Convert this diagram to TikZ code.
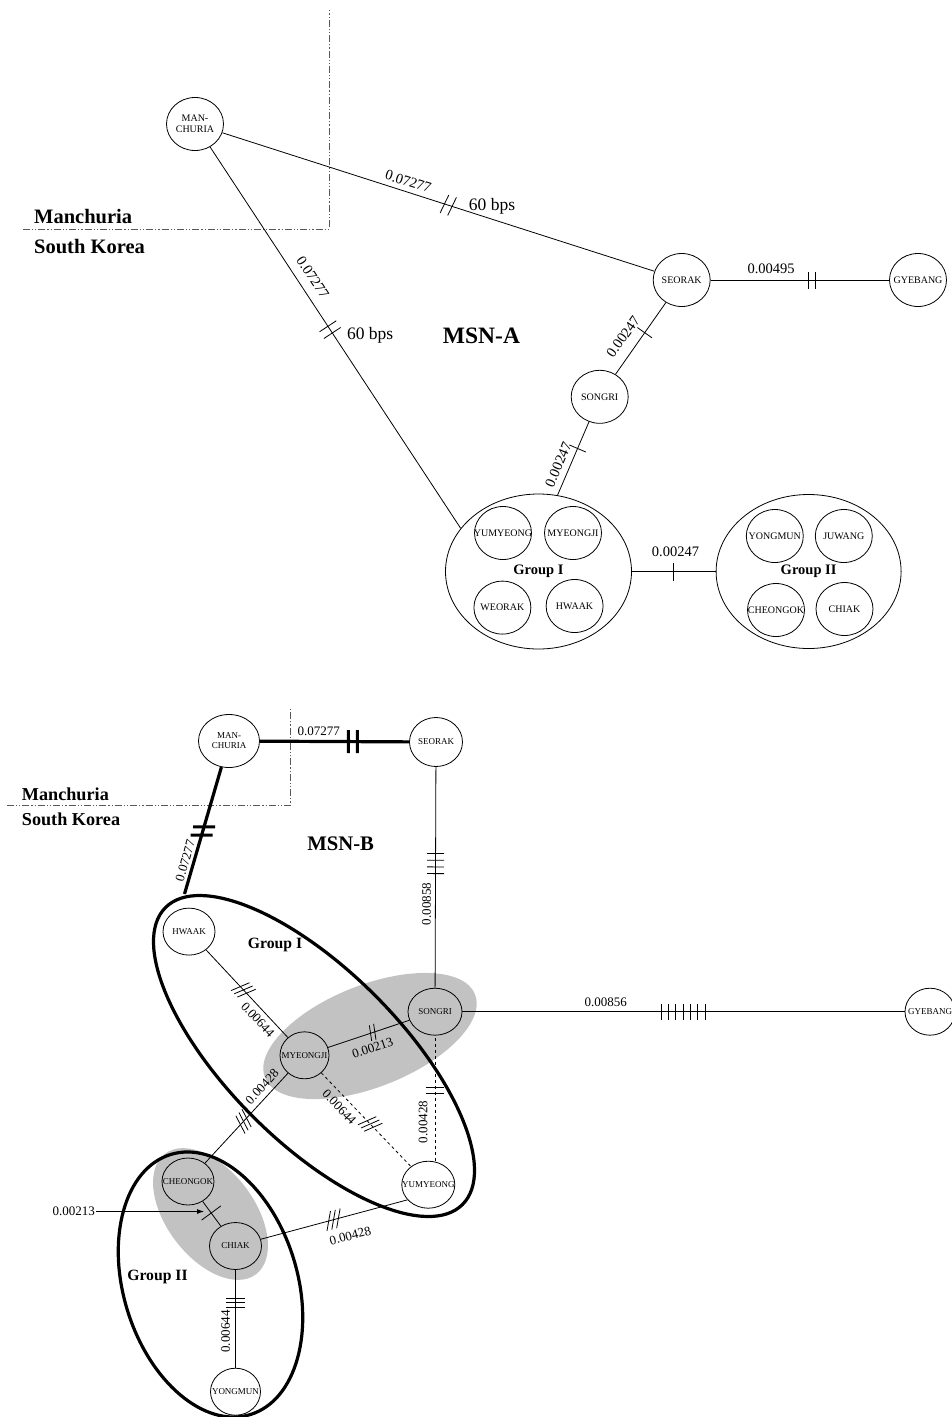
\documentclass[tikz,border=0pt]{standalone}
\usepackage{fontspec}
\setmainfont{Liberation Serif}
\usetikzlibrary{decorations.markings,arrows.meta,shapes.geometric}
\newcommand{\nm}[1]{\makebox[0pt]{#1}}
\tikzset{
  nA/.style={draw, ellipse, line width=0.8pt, inner sep=0pt, minimum width=57pt, minimum height=53pt, align=center, font=\fontsize{10}{11.3}\selectfont},
  nB/.style={nA, minimum width=52pt, minimum height=47pt, font=\fontsize{9}{10}\selectfont},
  grpA/.style={draw, ellipse, line width=0.8pt, inner sep=0pt, font=\bfseries\fontsize{14.5}{15}\selectfont},
  grpB/.style={inner sep=0pt, font=\bfseries\fontsize{15.7}{16}\selectfont},
  lbA/.style={sloped, inner sep=1pt, font=\fontsize{14.5}{15}\selectfont},
  lbB/.style={sloped, inner sep=1pt, font=\fontsize{13}{14}\selectfont},
  bps/.style={inner sep=0pt, font=\fontsize{17.5}{18}\selectfont},
  regA/.style={inner sep=0pt, font=\bfseries\fontsize{20.5}{22}\selectfont},
  regB/.style={inner sep=0pt, font=\bfseries\fontsize{18.2}{20}\selectfont},
  ttlA/.style={inner sep=0pt, font=\bfseries\fontsize{23.5}{25}\selectfont},
  ttlB/.style={inner sep=0pt, font=\bfseries\fontsize{20.7}{22}\selectfont},
  ed/.style={line width=0.8pt},
  thk/.style={line width=3.2pt},
  bd/.style={line width=0.9pt, black!65, dash pattern=on 7pt off 2pt on 1.2pt off 2pt on 1.2pt off 2pt},
  gr/.style={fill=black!24},
  tk/.style args={#1:#2:#3:#4:#5}{postaction={decorate,decoration={markings,
     mark=at position #1 with {\foreach \k in {1,...,#2}{\draw[solid,line width=0.8pt] ({(\k-(#2+1)/2)*#3},0) ++({270+(#4)}:#5) -- ++({90+(#4)}:{2*#5});}}}}},
  tkb/.style args={#1:#2:#3:#4:#5}{postaction={decorate,decoration={markings,
     mark=at position #1 with {\foreach \k in {1,...,#2}{\draw[solid,line width=3pt] ({(\k-(#2+1)/2)*#3},0) ++({270+(#4)}:#5) -- ++({90+(#4)}:{2*#5});}}}}},
}
\begin{document}
\begin{tikzpicture}[x=1pt,y=1pt]
\useasboundingbox (0,0) rectangle (951,-1417);

% ================= MSN-A =================
\draw[bd] (23,-229) -- (329,-229) -- (329,-10);
\node[regA, anchor=base west] (mancA) at (34,-223) {Manchuria};
\node[regA, anchor=base west] (skA) at (34,-253) {South Korea};
\node[ttlA, anchor=base] (msnA) at (481.5,-343.7) {MSN-A};

\node[nA] (manA) at (195,-124) {\nm{MAN-}\\\nm{CHURIA}};
\node[nA] (seoA) at (681.7,-280) {\nm{SEORAK}};
\node[nA] (gyeA) at (918,-280) {\nm{GYEBANG}};
\node[nA] (sonA) at (599.7,-396.8) {\nm{SONGRI}};
\node[grpA, minimum width=186pt, minimum height=155pt] (g1A) at (538.5,-571.5) {Group I};
\node[grpA, minimum width=185pt, minimum height=154pt] (g2A) at (808.6,-571.5) {Group II};
\node[nA] (yumA) at (503,-533) {\nm{YUMYEONG}};
\node[nA] (myeA) at (573,-533) {\nm{MYEONGJI}};
\node[nA] (weoA) at (502.4,-607.6) {\nm{WEORAK}};
\node[nA] (hwaA) at (574.6,-606) {\nm{HWAAK}};
\node[nA] (yonA) at (774.8,-536) {\nm{YONGMUN}};
\node[nA] (juwA) at (843.8,-536) {\nm{JUWANG}};
\node[nA] (cheA) at (776,-610) {\nm{CHEONGOK}};
\node[nA] (chiA) at (844.5,-609) {\nm{CHIAK}};

\draw[ed, tk={.523:2:8:-8:10}] (manA) -- (seoA)
  node[lbA, pos=.423, above=4pt] {0.07277}
  node[bps, pos=.615, xshift=4pt, yshift=12pt] {60 bps};
\draw[ed, tk={.479:2:8:0:10}] (manA) -- (g1A.151)
  node[lbA, pos=.362, above=8pt] {0.07277}
  node[bps, pos=.539, xshift=25pt, yshift=17pt] {60 bps};
\draw[ed, tk={.568:2:6.8:0:8.5}] (seoA) -- (gyeA)
  node[lbA, pos=.339, above=5pt] {0.00495};
\draw[ed, tk={.58:1:0:0:9}] (sonA) -- (seoA)
  node[lbA, pos=.40, above=9pt] {0.00247};
\draw[ed, tk={.637:1:0:0:9}] (g1A.76) -- (sonA)
  node[lbA, pos=.355, above=5pt] {0.00247};
\draw[ed, tk={.49:1:0:0:9}] (g1A) -- (g2A)
  node[lbA, pos=.52, above=13pt] {0.00247};

% ================= MSN-B =================
\fill[gr, rotate around={21.6:(370,-1036)}] (370,-1036) ellipse [x radius=113, y radius=51];
\fill[gr, rotate around={37:(210.5,-1214)}] (210.5,-1214) ellipse [x radius=44, y radius=75.5];
\draw[thk, rotate around={-45:(314,-1056)}] (314,-1056) ellipse [x radius=210, y radius=86];
\draw[thk, rotate around={17:(210.5,-1284.5)}] (210.5,-1284.5) ellipse [x radius=87, y radius=136];

\draw[bd] (7,-805.7) -- (290,-805.7) -- (290,-707);
\node[regB, anchor=base west] (mancB) at (21.7,-800) {Manchuria};
\node[regB, anchor=base west] (skB) at (21.7,-825.7) {South Korea};
\node[ttlB, anchor=base] (msnB) at (340.7,-850) {MSN-B};
\node[grpB, anchor=base] (g1lab) at (275,-948.5) {Group I};
\node[grpB, anchor=base] (g2lab) at (157.5,-1280) {Group II};

\node[nB, minimum width=61pt, minimum height=53pt] (manB) at (229,-741) {\nm{MAN-}\\\nm{CHURIA}};
\node[nB, minimum width=53pt, minimum height=49pt] (seoB) at (436,-742) {\nm{SEORAK}};
\node[nB] (hwaB) at (189,-931.6) {\nm{HWAAK}};
\node[nB, minimum width=49pt] (myeB) at (304.5,-1055.3) {\nm{MYEONGJI}};
\node[nB, minimum width=54pt] (sonB) at (435,-1011.7) {\nm{SONGRI}};
\node[nB, minimum width=53pt] (yumB) at (428.3,-1184.7) {\nm{YUMYEONG}};
\node[nB] (cheB) at (188,-1181.5) {\nm{CHEONGOK}};
\node[nB] (chiB) at (235.5,-1246) {\nm{CHIAK}};
\node[nB, minimum width=50pt] (yonB) at (235.5,-1391.7) {\nm{YONGMUN}};
\node[nB, minimum width=50pt] (gyeB) at (930,-1011.7) {\nm{GYEBANG}};
\coordinate (g1Btop) at (184.5,-894);
\coordinate (tip) at (204,-1211.5);

\draw[thk, tkb={.623:2:9:0:11.5}] (manB) -- (seoB)
  node[lbB, pos=.394, above=3pt] {0.07277};
\draw[thk, tkb={.497:2:8.6:16.3:11}] (g1Btop) -- (manB)
  node[lbB, pos=.244, above=1.5pt] {0.07277};
\draw[ed, tk={.5625:4:6.7:0:8.5}] (sonB) -- (seoB)
  node[lbB, pos=.379, above=3pt] {0.00858};
\draw[ed, tk={.499:7:7.3:0:8}] (sonB) -- (gyeB)
  node[lbB, pos=.324, above=4pt] {0.00856};
\draw[ed, tk={.457:3:4.5:-20:10}] (hwaB) -- (myeB)
  node[lbB, pos=.72, below=4pt] {0.00644};
\draw[ed, tk={.549:2:4.5:-10:8}] (myeB) -- (sonB)
  node[lbB, pos=.49, below=9pt] {0.00213};
\draw[ed, tk={.465:3:4.5:-20:10}] (cheB) -- (myeB)
  node[lbB, pos=.776, above=4pt] {0.00428};
\draw[ed, dashed, tk={.548:3:4.5:-20:10}] (myeB) -- (yumB)
  node[lbB, pos=.287, below=5pt] {0.00644};
\draw[ed, dashed, tk={.563:2:6.7:0:9}] (yumB.north -| sonB) -- (sonB.south)
  node[lbB, pos=.31, above=6pt] {0.00428};
\draw[ed, tk={.47:1:0:0:12}] (cheB) -- (chiB);
\draw[ed, tk={.496:3:5:-25:10}] (chiB) -- (yumB.216)
  node[lbB, pos=.575, below=14pt] {0.00428};
\draw[ed, tk={.668:3:4.5:0:9.5}] (yonB) -- (chiB)
  node[lbB, pos=.37, above=4pt] {0.00644};
\node[lbB, anchor=east] (l213) at (96,-1211.5) {0.00213};
\draw[ed, -{Latex[length=7pt,width=5pt]}] (l213) -- (tip);
\end{tikzpicture}
\end{document}
